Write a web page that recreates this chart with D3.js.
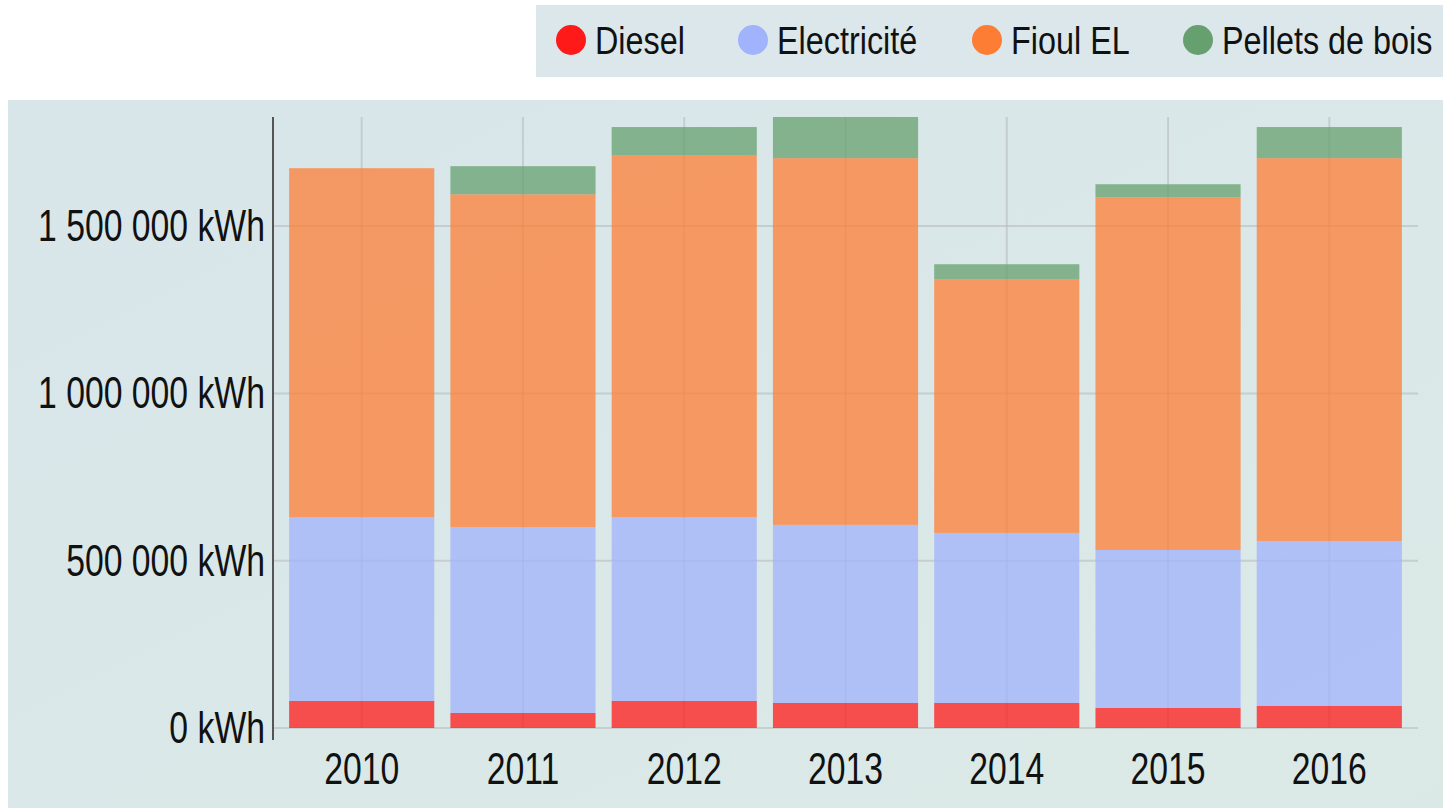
<!DOCTYPE html>
<html>
<head>
<meta charset="utf-8">
<script src="https://cdn.jsdelivr.net/npm/d3@7"></script>
<style>
  body { margin: 0; background: #fff; }
  svg { display: block; }
  text { font-family: "Liberation Sans", Arial, sans-serif; fill: #111; }
</style>
</head>
<body>
<svg id="chart"></svg>
<script>
const years = ["2010", "2011", "2012", "2013", "2014", "2015", "2016"];
const energies = ["Diesel", "Electricité", "Fioul EL", "Pellets de bois"];
const colors = ["#ff1a1a", "#a0b3fc", "#fd7d35", "#65a06e"];

// kWh per year
const diesel      = [81000, 45000, 81000, 75000, 75000, 60000, 66000];
const electricite = [549000, 555000, 549000, 532000, 508000, 472000, 493000];
const fioul       = [1043000, 995000, 1082000, 1096000, 758000, 1054000, 1144000];
const pellets     = [0, 84000, 84000, 123000, 45000, 39000, 93000];
const yTicks = [0, 500000, 1000000, 1500000];

const W = 1443, H = 808;
const margin = {top: 117, right: 25, bottom: 80, left: 273};
const squeeze = 0.75; // the labels are drawn narrow

const rows = years.map((y, i) => ({
  year: y,
  "Diesel": diesel[i],
  "Electricité": electricite[i],
  "Fioul EL": fioul[i],
  "Pellets de bois": pellets[i]
}));

const svg = d3.select("#chart").attr("width", W).attr("height", H);

const defs = svg.append("defs");
const grad = defs.append("linearGradient").attr("id", "bg")
    .attr("x1", 0).attr("y1", 0).attr("x2", 1).attr("y2", 1);
grad.append("stop").attr("offset", "0%").attr("stop-color", "#d8e6ea");
grad.append("stop").attr("offset", "100%").attr("stop-color", "#dbe9e6");

// chart panel
svg.append("rect")
    .attr("x", 8).attr("y", 100)
    .attr("width", W - 8).attr("height", H - 100)
    .attr("fill", "url(#bg)");

// legend panel
svg.append("rect")
    .attr("x", 536).attr("y", 5)
    .attr("width", W - 536).attr("height", 72)
    .attr("fill", "#dbe7ea");

const legendX = [571, 753, 987, 1198];
const legend = svg.append("g").selectAll("g")
    .data(energies)
    .join("g")
    .attr("transform", (d, i) => `translate(${legendX[i]}, 40)`);
legend.append("circle").attr("r", 15).attr("fill", (d, i) => colors[i]);
legend.append("text")
    .attr("transform", "translate(24,0) scale(0.83,1)")
    .attr("dy", "0.35em")
    .style("font-size", "39px")
    .text(d => d);

const x = d3.scaleBand()
    .domain(years)
    .range([margin.left, W - margin.right])
    .paddingInner(0.1)
    .paddingOuter(0.1);

const stack = d3.stack().keys(energies);
const series = stack(rows);
const ymax = d3.max(series[series.length - 1], d => d[1]);

const y = d3.scaleLinear()
    .domain([0, ymax])
    .range([H - margin.bottom, margin.top]);

// grid
const grid = svg.append("g");
grid.selectAll("line.h")
    .data(yTicks)
    .join("line")
    .attr("class", "h")
    .attr("x1", margin.left).attr("x2", W - margin.right)
    .attr("y1", d => y(d)).attr("y2", d => y(d))
    .attr("stroke", "#b9bcbf").attr("stroke-opacity", 0.6).attr("stroke-width", 2);
grid.selectAll("line.v")
    .data(years)
    .join("line")
    .attr("class", "v")
    .attr("x1", d => x(d) + x.bandwidth() / 2).attr("x2", d => x(d) + x.bandwidth() / 2)
    .attr("y1", margin.top).attr("y2", H - margin.bottom)
    .attr("stroke", "#b9bcbf").attr("stroke-opacity", 0.6).attr("stroke-width", 2);

// bars
svg.append("g")
    .selectAll("g")
    .data(series)
    .join("g")
    .attr("fill", (d, i) => colors[i])
    .attr("fill-opacity", 0.75)
    .selectAll("rect")
    .data(d => d)
    .join("rect")
    .attr("x", d => x(d.data.year))
    .attr("width", x.bandwidth())
    .attr("y", d => y(d[1]))
    .attr("height", d => y(d[0]) - y(d[1]));

// y axis
const fmt = v => d3.format(",")(v).replace(/,/g, " ") + " kWh";
const yAxis = svg.append("g")
    .attr("transform", `translate(${margin.left - 8},0)`)
    .call(d3.axisLeft(y).tickValues(yTicks).tickFormat(fmt).tickSize(0).tickPadding(0));
yAxis.select(".domain").remove();
yAxis.selectAll("text")
    .style("font-size", "45px").style("font-family", null).attr("fill", "#111")
    .attr("x", null)
    .attr("transform", `scale(${squeeze},1)`);
svg.append("line")
    .attr("x1", margin.left).attr("x2", margin.left)
    .attr("y1", margin.top).attr("y2", H - margin.bottom + 12)
    .attr("stroke", "#555").attr("stroke-width", 2);

// x axis
const xAxis = svg.append("g")
    .attr("transform", `translate(0,${H - margin.bottom})`)
    .call(d3.axisBottom(x).tickSize(0).tickPadding(24));
xAxis.select(".domain").remove();
xAxis.selectAll("text")
    .style("font-size", "45px").style("font-family", null).attr("fill", "#111")
    .attr("transform", `scale(${squeeze},1)`);
</script>
</body>
</html>
